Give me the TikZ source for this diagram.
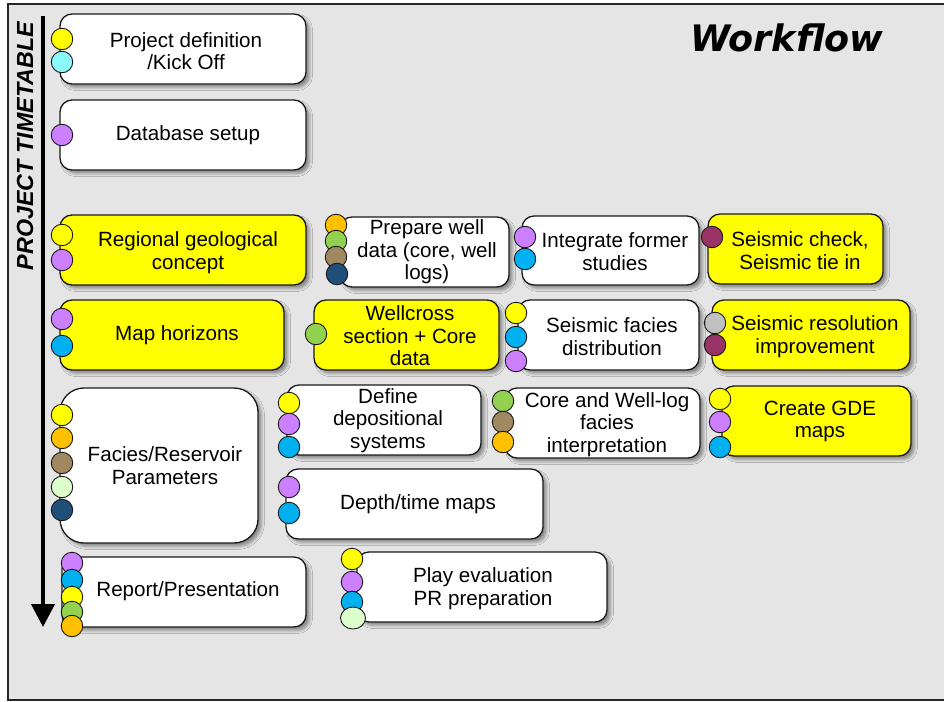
\documentclass[tikz,border=0pt]{standalone}
\usepackage{fontspec}
\setmainfont{Liberation Sans}
\newfontfamily\titlefont{DejaVu Sans}
\usetikzlibrary{arrows.meta,shadows.blur,shapes.geometric}
\definecolor{bggray}{HTML}{E5E5E5}
\definecolor{cyel}{HTML}{FFFF00}
\definecolor{ccyan}{HTML}{8CFAFA}
\definecolor{cpur}{HTML}{CC80FF}
\definecolor{cblue}{HTML}{00B0F0}
\definecolor{corange}{HTML}{FFC000}
\definecolor{cgreen}{HTML}{92D050}
\definecolor{cbrown}{HTML}{A08860}
\definecolor{cnavy}{HTML}{1F4E79}
\definecolor{clgreen}{HTML}{DCFFCC}
\definecolor{cmaroon}{HTML}{993366}
\definecolor{clgray}{HTML}{C0C0C0}
\tikzset{
  box/.style={draw=black!90, line width=1.3pt, rounded corners=12pt, inner sep=0pt,
    blur shadow={shadow xshift=3.5pt, shadow yshift=-3.5pt, shadow blur radius=3pt, shadow opacity=40}},
  wbox/.style={box, fill=white},
  ybox/.style={box, fill=cyel},
  dot/.style={circle, draw=black!90, line width=0.9pt, minimum size=21.5pt, inner sep=0pt},
  txt/.style={align=center, font=\fontsize{20.6}{22.6}\selectfont, inner sep=0pt}
}
\begin{document}
\begin{tikzpicture}[x=1pt,y=-1pt]
\fill[white] (0,0) rectangle (944,701);
\useasboundingbox (0,0) rectangle (944,701);
\draw[fill=bggray, draw=black!85, line width=1.6pt] (8,4) rectangle (970,700);

% title
\node[font=\titlefont\bfseries\itshape\fontsize{36.5}{40}\selectfont, anchor=base] (title) at (787,52) {Workflow};

% timeline
\coordinate (tstart) at (43,16);
\coordinate (tend) at (43,627);
\draw[line width=4pt, -{Triangle[width=23pt,length=23pt]}] (tstart) -- (tend);
\node[rotate=90, font=\bfseries\itshape\fontsize{23.3}{25}\selectfont, inner sep=0pt] (tt) at (25,146) {PROJECT TIMETABLE};

% boxes
\node[wbox, minimum width=246pt, minimum height=70pt] (b1) at (183,49) {};
\node[txt] (b1t) at (186,51) {Project definition\\/Kick Off};
\node[dot, fill=cyel] (b1a) at (62,39) {};
\node[dot, fill=ccyan] (b1b) at (62,62) {};

\node[wbox, minimum width=246pt, minimum height=70pt] (b2) at (183,135) {};
\node[txt] (b2t) at (188,135.5) {Database setup};
\node[dot, fill=cpur] (b2a) at (62,135) {};

\node[ybox, minimum width=246pt, minimum height=70pt] (b3) at (183,250) {};
\node[txt] (b3t) at (188,252.5) {Regional geological\\concept};
\node[dot, fill=cyel] (b3a) at (62,235) {};
\node[dot, fill=cpur] (b3b) at (62,260) {};

\node[ybox, minimum width=224pt, minimum height=70pt] (b4) at (172,335) {};
\node[txt] (b4t) at (177,335.5) {Map horizons};
\node[dot, fill=cpur] (b4a) at (62,319) {};
\node[dot, fill=cblue] (b4b) at (62,346) {};

\node[wbox, minimum width=169pt, minimum height=70pt] (b5) at (424.5,252) {};
\node[txt] (b5t) at (427,252) {Prepare well\\data (core, well\\logs)};
\node[dot, fill=corange] (b5a) at (336,225) {};
\node[dot, fill=cgreen] (b5b) at (336,241) {};
\node[dot, fill=cbrown] (b5c) at (336,257) {};
\node[dot, fill=cnavy] (b5d) at (337,274) {};

\node[wbox, minimum width=177pt, minimum height=69pt] (b6) at (610.5,250.5) {};
\node[txt] (b6t) at (615,251.5) {Integrate former\\studies};
\node[dot, fill=cpur] (b6a) at (525,237) {};
\node[dot, fill=cblue] (b6b) at (525,259) {};

\node[ybox, minimum width=175pt, minimum height=70pt] (b7) at (795.5,249) {};
\node[txt] (b7t) at (800,250.5) {Seismic check,\\Seismic tie in};
\node[dot, fill=cmaroon] (b7a) at (712,237) {};

\node[ybox, minimum width=198pt, minimum height=70pt] (b8) at (811,335) {};
\node[txt] (b8t) at (815,336.5) {Seismic resolution\\improvement};
\node[dot, fill=clgray] (b8a) at (715,323) {};
\node[dot, fill=cmaroon] (b8b) at (715,345) {};

\node[ybox, minimum width=185pt, minimum height=70pt] (b9) at (406.5,335) {};
\node[txt] (b9t) at (410,336) {Wellcross\\section + Core\\data};
\node[dot, fill=cgreen] (b9a) at (316,334) {};

\node[wbox, minimum width=181pt, minimum height=70pt] (b10) at (608.5,335) {};
\node[txt] (b10t) at (612,336.5) {Seismic facies\\distribution};
\node[dot, fill=cyel] (b10a) at (516,313) {};
\node[dot, fill=cblue] (b10b) at (516,337) {};
\node[dot, fill=cpur] (b10c) at (516,361) {};

\node[wbox, rounded corners=24pt, minimum width=198pt, minimum height=155pt] (b11) at (159,465.5) {};
\node[txt] (b11t) at (165,465.5) {Facies/Reservoir\\Parameters};
\node[dot, fill=cyel] (b11a) at (62,415) {};
\node[dot, fill=corange] (b11b) at (62,438) {};
\node[dot, fill=cbrown] (b11c) at (62,463) {};
\node[dot, fill=clgreen] (b11d) at (62,487) {};
\node[dot, fill=cnavy] (b11e) at (62,510) {};

\node[wbox, minimum width=194pt, minimum height=70pt] (b12) at (384,420) {};
\node[txt] (b12t) at (388,420.5) {Define\\depositional\\systems};
\node[dot, fill=cyel] (b12a) at (289,403) {};
\node[dot, fill=cpur] (b12b) at (289,424) {};
\node[dot, fill=cblue] (b12c) at (289,447) {};

\node[wbox, minimum width=195pt, minimum height=70pt] (b13) at (602.5,423) {};
\node[txt] (b13t) at (607,424.5) {Core and Well-log\\facies\\interpretation};
\node[dot, fill=cgreen] (b13a) at (503,401) {};
\node[dot, fill=cbrown] (b13b) at (503,422) {};
\node[dot, fill=corange] (b13c) at (503,442) {};

\node[ybox, minimum width=189pt, minimum height=70pt] (b14) at (816.5,421) {};
\node[txt] (b14t) at (820,421.5) {Create GDE\\maps};
\node[dot, fill=cyel] (b14a) at (720,399) {};
\node[dot, fill=cpur] (b14b) at (720,422) {};
\node[dot, fill=cblue] (b14c) at (720,447) {};

\node[wbox, minimum width=257pt, minimum height=70pt] (b15) at (414.5,504) {};
\node[txt] (b15t) at (418,504.5) {Depth/time maps};
\node[dot, fill=cpur] (b15a) at (289,487) {};
\node[dot, fill=cblue] (b15b) at (289,513) {};

\node[wbox, minimum width=244pt, minimum height=70pt] (b16) at (184,592) {};
\node[txt] (b16t) at (188,591.5) {Report/Presentation};
\node[dot, fill=cpur] (b16a) at (72,563) {};
\node[dot, fill=cblue] (b16b) at (72,580) {};
\node[dot, fill=cyel] (b16c) at (72,597) {};
\node[dot, fill=cgreen] (b16d) at (72,612) {};
\node[dot, fill=corange] (b16e) at (72,626) {};

\node[wbox, minimum width=250pt, minimum height=70pt] (b17) at (482,587) {};
\node[txt] (b17t) at (483,588.5) {Play evaluation\\PR preparation};
\node[dot, fill=cyel] (b17a) at (352,559) {};
\node[dot, fill=cpur] (b17b) at (352,582) {};
\node[dot, fill=cblue] (b17c) at (352,602) {};
\node[dot, ellipse, minimum width=25pt, minimum height=22pt, fill=clgreen] (b17d) at (353,618) {};
\end{tikzpicture}
\end{document}
